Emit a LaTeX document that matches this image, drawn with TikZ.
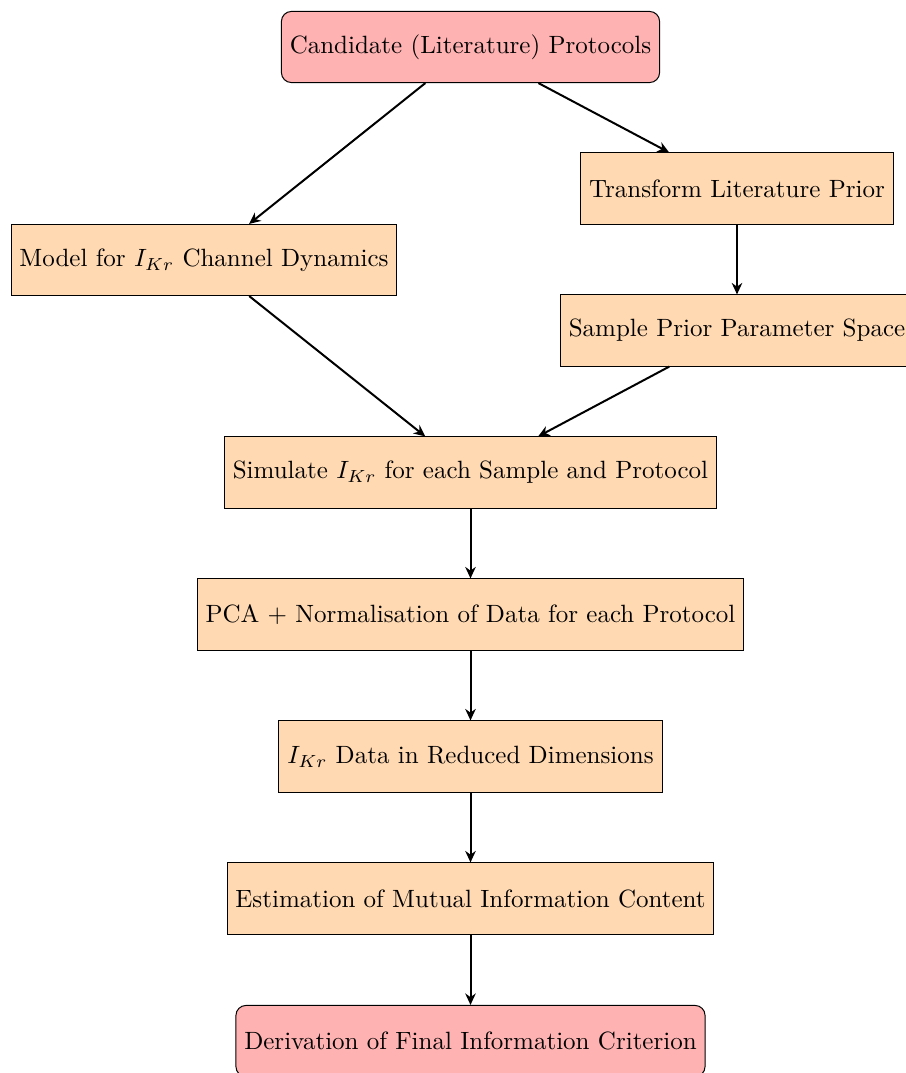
\documentclass[tikz,border=0pt]{standalone}
\usetikzlibrary{arrows.meta}
\tikzset{
  process/.style={rectangle, minimum height=1cm, draw=black, fill=orange!30, text centered},
  startstop/.style={rectangle, rounded corners, minimum height=1cm, draw=black, fill=red!30, text centered},
  arrow/.style={thick, -{Stealth[length=4.6pt,width=4.2pt]}}
}
\begin{document}
\begin{tikzpicture}[x=0.4pt, y=-0.4pt]
\useasboundingbox (0,0) rectangle (906,1073);
\node[startstop] (start) at (470.5,47) {Candidate (Literature) Protocols};
\node[process] (model) at (204,260) {Model for $I_{Kr}$ Channel Dynamics};
\node[process] (transform) at (737,188.5) {Transform Literature Prior};
\node[process] (sample) at (737,330.5) {Sample Prior Parameter Space};
\node[process] (simulate) at (470.5,472.5) {Simulate $I_{Kr}$ for each Sample and Protocol};
\node[process] (pca) at (470.5,614.5) {PCA + Normalisation of Data for each Protocol};
\node[process] (data) at (470.5,756.5) {$I_{Kr}$ Data in Reduced Dimensions};
\node[process] (estim) at (470.5,898.5) {Estimation of Mutual Information Content};
\node[startstop] (deriv) at (470.5,1041) {Derivation of Final Information Criterion};
\draw[arrow] (start) -- (model);
\draw[arrow] (start) -- (transform);
\draw[arrow] (transform) -- (sample);
\draw[arrow] (model) -- (simulate);
\draw[arrow] (sample) -- (simulate);
\draw[arrow] (simulate) -- (pca);
\draw[arrow] (pca) -- (data);
\draw[arrow] (data) -- (estim);
\draw[arrow] (estim) -- (deriv);
\end{tikzpicture}
\end{document}
